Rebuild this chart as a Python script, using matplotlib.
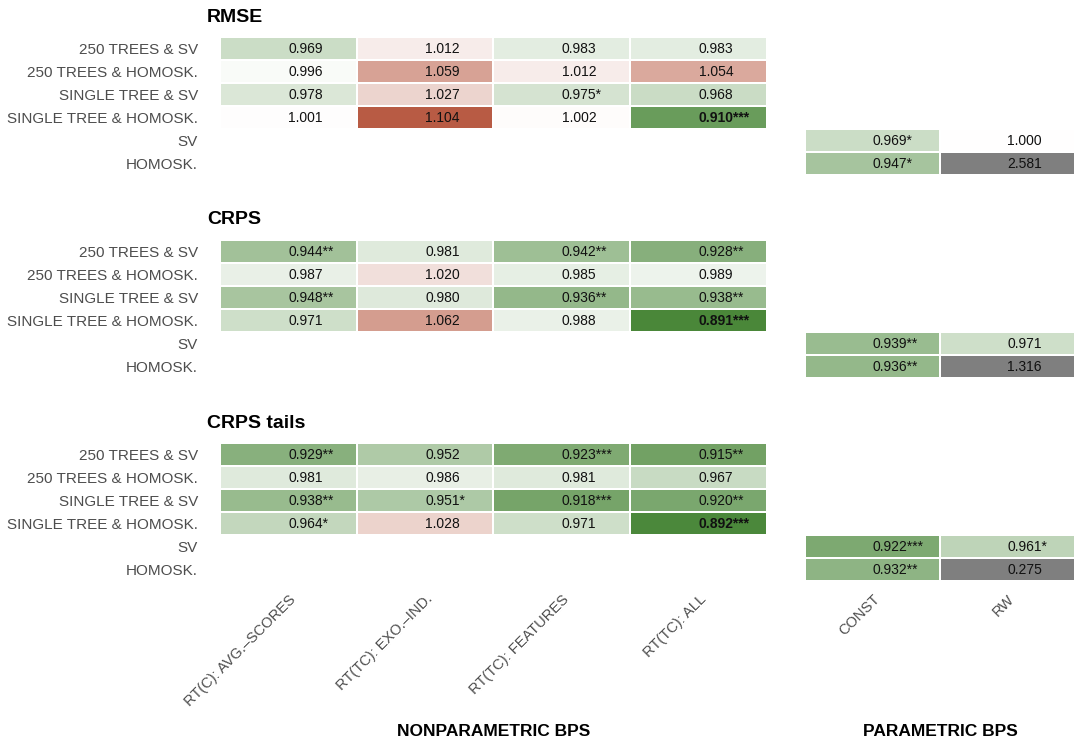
import numpy as np
import matplotlib
matplotlib.use("Agg")
import matplotlib.pyplot as plt
from matplotlib.colors import LinearSegmentedColormap, TwoSlopeNorm

plt.rcParams['font.family'] = ['Liberation Sans', 'DejaVu Sans']

metrics = ["RMSE", "CRPS", "CRPS tails"]
row_labels = ["250 TREES & SV", "250 TREES & HOMOSK.", "SINGLE TREE & SV",
              "SINGLE TREE & HOMOSK.", "SV", "HOMOSK."]
nonpar_cols = ["RT(C): AVG.–SCORES", "RT(TC): EXO.–IND.", "RT(TC): FEATURES", "RT(TC): ALL"]
par_cols = ["CONST", "RW"]

# relative scores, rows = first four row labels
rmse_nonpar = [[0.969, 1.012, 0.983, 0.983],
               [0.996, 1.059, 1.012, 1.054],
               [0.978, 1.027, 0.975, 0.968],
               [1.001, 1.104, 1.002, 0.910]]
rmse_nonpar_sig = [["", "", "", ""],
                   ["", "", "", ""],
                   ["", "", "*", ""],
                   ["", "", "", "***"]]
# parametric: rows SV, HOMOSK.; HOMOSK./RW is the benchmark (absolute value)
rmse_par = [[0.969, 1.000],
            [0.947, 2.581]]
rmse_par_sig = [["*", ""], ["*", ""]]

crps_nonpar = [[0.944, 0.981, 0.942, 0.928],
               [0.987, 1.020, 0.985, 0.989],
               [0.948, 0.980, 0.936, 0.938],
               [0.971, 1.062, 0.988, 0.891]]
crps_nonpar_sig = [["**", "", "**", "**"],
                   ["", "", "", ""],
                   ["**", "", "**", "**"],
                   ["", "", "", "***"]]
crps_par = [[0.939, 0.971],
            [0.936, 1.316]]
crps_par_sig = [["**", ""], ["**", ""]]

tails_nonpar = [[0.929, 0.952, 0.923, 0.915],
                [0.981, 0.986, 0.981, 0.967],
                [0.938, 0.951, 0.918, 0.920],
                [0.964, 1.028, 0.971, 0.892]]
tails_nonpar_sig = [["**", "", "***", "**"],
                    ["", "", "", ""],
                    ["**", "*", "***", "**"],
                    ["*", "", "", "***"]]
tails_par = [[0.922, 0.961],
             [0.932, 0.275]]
tails_par_sig = [["***", "*"], ["**", ""]]

panels = [(rmse_nonpar, rmse_nonpar_sig, rmse_par, rmse_par_sig),
          (crps_nonpar, crps_nonpar_sig, crps_par, crps_par_sig),
          (tails_nonpar, tails_nonpar_sig, tails_par, tails_par_sig)]

# colour scale shared by all panels, benchmark cell excluded
rel = np.concatenate([np.ravel(p[0]) for p in panels] +
                     [np.ravel(p[2])[:3] for p in panels])
cmap = LinearSegmentedColormap.from_list("gwr", ["#4a8739", "#ffffff", "#b85b44"])
norm = TwoSlopeNorm(vcenter=1.0, vmin=rel.min(), vmax=rel.max())
grey_cmap = LinearSegmentedColormap.from_list("grey", ["#7f7f7f", "#7f7f7f"])

W, H = 1075, 742
fig = plt.figure(figsize=(W / 100, H / 100), dpi=100)

left_x = (220 / W, 547 / W)
right_x = (805 / W, 270 / W)
tops = [37, 240, 443]
ph = 138


def draw_cells(ax, vals, sig, bold_val, grey_mask=None):
    arr = np.ma.masked_invalid(vals)
    if grey_mask is not None:
        arr = np.ma.masked_where(grey_mask | np.isnan(vals), vals)
        grey = np.ma.masked_where(~grey_mask, np.ones_like(vals))
        ax.pcolormesh(grey, cmap=grey_cmap, edgecolors="white", linewidth=1.2)
    ax.pcolormesh(arr, cmap=cmap, norm=norm, edgecolors="white", linewidth=1.2)
    nr, nc = vals.shape
    for i in range(nr):
        for j in range(nc):
            v = vals[i, j]
            if np.isnan(v):
                continue
            ax.text(j + 0.5, i + 0.52, f"{v:.3f}{sig[i][j]}", ha="left", va="center",
                    fontsize=10, color="#111111",
                    fontweight="bold" if v == bold_val else "normal")
    ax.set_xlim(0, nc)
    ax.set_ylim(nr, 0)
    for s in ax.spines.values():
        s.set_visible(False)
    ax.tick_params(length=0)


for k, (npv, nps, pv, ps) in enumerate(panels):
    bottom = 1 - (tops[k] + ph) / H
    height = ph / H
    axl = fig.add_axes([left_x[0], bottom, left_x[1], height])
    axr = fig.add_axes([right_x[0], bottom, right_x[1], height])

    lv = np.full((6, 4), np.nan)
    lv[:4] = npv
    ls = [list(r) for r in nps] + [[""] * 4, [""] * 4]
    rv = np.full((6, 2), np.nan)
    rv[4:] = pv
    rs = [[""] * 2] * 4 + [list(r) for r in ps]
    gmask = np.zeros((6, 2), dtype=bool)
    gmask[5, 1] = True

    best = min(np.min(npv), np.min(np.ravel(pv)[:3]))
    draw_cells(axl, lv, ls, best)
    draw_cells(axr, rv, rs, best, gmask)

    axl.set_yticks(np.arange(6) + 0.5)
    axl.set_yticklabels(row_labels, fontsize=11, color="#4d4d4d")
    axl.tick_params(axis="y", pad=16)
    axr.set_yticks([])
    if k < 2:
        axl.set_xticks([])
        axr.set_xticks([])
    else:
        for ax, labs in ((axl, nonpar_cols), (axr, par_cols)):
            ax.set_xticks(np.arange(len(labs)) + 0.5)
            ax.set_xticklabels(labs, rotation=45, ha="right", va="top",
                               rotation_mode="anchor", fontsize=10.5, color="#4d4d4d")
            ax.tick_params(axis="x", pad=8)

    fig.text(207 / W, 1 - (tops[k] - 20) / H, metrics[k], fontsize=14,
             fontweight="bold", ha="left", va="center")

fig.text((220 + 767) / 2 / W, 1 - 731 / H, "NONPARAMETRIC BPS", fontsize=12.5,
         fontweight="bold", ha="center", va="center")
fig.text((805 + 1075) / 2 / W, 1 - 731 / H, "PARAMETRIC BPS", fontsize=12.5,
         fontweight="bold", ha="center", va="center")

fig.savefig("out.png", dpi=100)
